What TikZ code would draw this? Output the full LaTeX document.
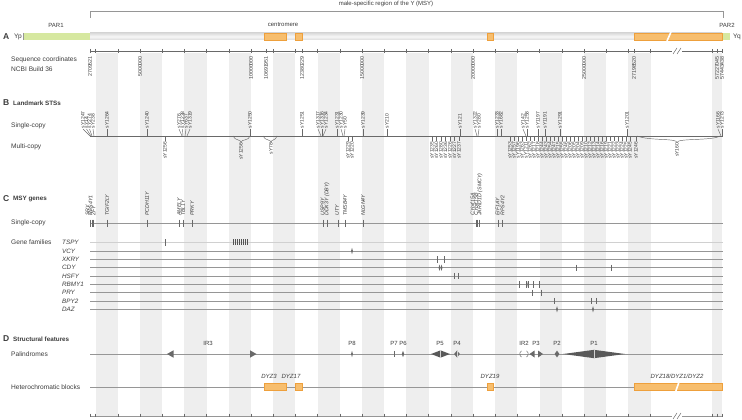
\documentclass[tikz,border=0pt]{standalone}
\usepackage{fontspec}
\setmainfont{Liberation Sans}
\usetikzlibrary{positioning, arrows.meta, shapes.geometric}
\definecolor{stripeGrey}{RGB}{238,238,238}
\definecolor{lineGrey}{RGB}{150,150,150}
\definecolor{textGrey}{RGB}{60,60,60}
\definecolor{parGreen}{RGB}{214,232,160}
\definecolor{hetOrange}{RGB}{247,190,110}
\definecolor{hetEdge}{RGB}{238,160,60}
\definecolor{markGrey}{RGB}{105,105,105}
\tikzset{
	stripe/.style={fill=stripeGrey},
	trackline/.style={draw=lineGrey, line width=0.6pt},
	tickline/.style={draw=markGrey, line width=0.45pt},
	hetblock/.style={fill=hetOrange, draw=hetEdge, line width=0.3pt},
	letter/.style={anchor=west, font=\bfseries\fontsize{8.5}{9}\selectfont, text=textGrey, inner sep=0pt},
	sectitle/.style={anchor=west, font=\bfseries\fontsize{6.3}{7}\selectfont, text=textGrey, inner sep=0pt},
	rowlabel/.style={anchor=west, font=\fontsize{6.6}{7}\selectfont, text=textGrey, inner sep=0pt},
	famlabel/.style={anchor=west, font=\itshape\fontsize{6.3}{7}\selectfont, text=textGrey, inner sep=0pt},
	toplabel/.style={font=\fontsize{6}{7}\selectfont, text=textGrey, inner sep=0pt},
	coordlabel/.style={rotate=90, anchor=east, font=\fontsize{5.3}{6}\selectfont, text=textGrey, inner sep=0pt},
	stsup/.style={rotate=90, anchor=west, font=\fontsize{5}{6}\selectfont, text=textGrey, inner sep=0pt},
	stsdown/.style={rotate=90, anchor=east, font=\fontsize{5}{6}\selectfont, text=textGrey, inner sep=0pt},
	geneup/.style={rotate=90, anchor=west, font=\itshape\fontsize{5.3}{6}\selectfont, text=textGrey, inner sep=0pt},
	famark/.style={diamond, fill=markGrey, inner sep=0pt, minimum width=2pt, minimum height=6.5pt},
	palmark/.style={fill=markGrey},
	pallabel/.style={font=\fontsize{6}{7}\selectfont, text=textGrey, inner sep=0pt},
	hetlabel/.style={font=\itshape\fontsize{6}{7}\selectfont, text=textGrey, inner sep=0pt}
}
\begin{document}
\begin{tikzpicture}[x=1pt, y=-1pt]
\useasboundingbox (0,0) rectangle (742,420);
% grey bands, one for every second megabase
\foreach \m in {3,5,...,27}
	\fill[stripe] ({29+22.2*\m},53) rectangle ({29+22.2*(\m+1)},416);
\fill[stripe] (712,53) rectangle (722,416);

% A: the chromosome
\node[letter] (secA) at (3,36.5) {A};
\node[rowlabel] (yp) at (14,36.5) {Yp};
\shade[top color=black!14, bottom color=black!14, middle color=black!3] (90,33) rectangle (722,40);
\fill[parGreen] (23,33) rectangle (90,40);
\draw[lineGrey, line width=0.4pt] (23,33) -- (23,40);
\fill[parGreen] (722,33) rectangle (730,40);
\path[hetblock] (264,33) rectangle (286,40);
\path[hetblock] (295,33) rectangle (302,40);
\path[hetblock] (487,33) rectangle (493,40);
\path[hetblock] (634,33) rectangle (722,40);
\draw[white, line width=1.6pt] (667,41) -- (671,32);
\node[rowlabel] (yq) at (733,36.5) {Yq};
\node[toplabel] (par1) at (56,25) {PAR1};
\node[toplabel] (cen) at (283,25) {centromere};
\node[toplabel] (par2) at (727,25) {PAR2};
\node[toplabel] (msy) at (386,4) {male-specific region of the Y (MSY)};
\draw[lineGrey, line width=0.6pt] (90,18) |- (723,11) -- (723,18);

% sequence coordinates
\node[rowlabel] (seq1) at (11,60) {Sequence coordinates};
\node[rowlabel] (seq2) at (11,69) {NCBI Build 36};
\draw[tickline, line width=0.6pt] (90,51) -- (672,51);
\draw[tickline, line width=0.6pt] (682,51) -- (723,51);
\draw[tickline] (673,54) -- (677,48);
\draw[tickline] (677,54) -- (681,48);
\foreach \m in {3,...,28}
	\draw[tickline] ({29+22.2*\m},49) -- ({29+22.2*\m},53);
\foreach \x in {90,266,302,634,712,717,722}
	\draw[tickline] (\x,49) -- (\x,53);
\foreach \x/\t [count=\i] in {90/2709521, 140/5000000, 251/10000000, 266/10691951,
		302/12380229, 362/15000000, 473/20000000, 584/25000000, 634/27198520,
		717/57227045, 722/57443438}
	\node[coordlabel] (coord\i) at (\x,56) {\t};

% B: landmark STSs
\node[letter] (secB) at (3,103) {B};
\node[sectitle] (titB) at (13,103) {Landmark STSs};
\node[rowlabel] (stsSingle) at (11,126) {Single-copy};
\node[rowlabel] (stsMulti) at (11,147) {Multi-copy};
\draw[tickline, line width=0.6pt] (90,136) -- (723,136);
% single-copy: label position / true position
\foreach \x/\p/\t [count=\i] in {83/90/sY1247, 86.5/91/sY14, 89.5/92/sY274, 93/94/sY238,
		107/107/sY1264, 147/147/sY1240, 179/182/sY276, 182.5/183/sY1238, 186/185/sY637,
		190/187/sY1319, 250/250/sY1250, 302/302/sY1251, 318/321/sY1317, 322/322/sY1316,
		326/323/sY1234, 337/337/sY1231, 341/343/sY1230, 345/344/sY50, 363/363/sY1239,
		387/387/sY210, 460/460/sY121, 475/477/sY1322, 479/478/sY280, 497/497/sY1233,
		501/501/sY1682, 523/526/sY142, 527/527/sY1258, 538/538/sY1197, 545/545/sY1191,
		560/560/sY1291, 627/627/sY1201, 718/721/sY1166, 722/722/sY1273}
	{
	\node[stsup] (sc\i) at (\x,128.5) {\t};
	\draw[tickline] (\x,129) -- (\p,136);
	}
% multi-copy, single site
\foreach \x/\t [count=\i] in {165/sY1256, 348/sY1229, 352/sY1220,
		432/sY1235, 436.5/sY1260, 441/sY1280, 445.5/sY1236, 450/sY1226, 454.5/sY1227, 459/sY1237,
		510/sY1253, 514/sY1257, 518/sY1196, 522/sY1263, 526/sY1211, 530/sY1262, 534/sY1217,
		538/sY1218, 542/sY1244, 546/sY1243, 550/sY1254, 554/sY1247, 558/sY1215, 562/sY1255,
		566/sY1246, 570/sY1206, 574/sY1205, 578/sY1204, 582/sY1209, 586/sY1210, 590/sY1212,
		594/sY1213, 598/sY1214, 602/sY1216, 606/sY1219, 610/sY1221, 614/sY1222, 618/sY1223,
		622/sY1224, 626/sY1225, 630/sY1245, 636/sY1246}
	{
	\node[stsdown] (mc\i) at (\x,141.5) {\t};
	\draw[tickline] (\x,136) -- (\x,141);
	}
% multi-copy, two sites joined to one label
\node[stsdown] (mcA) at (241,142.5) {sY1256};
\draw[tickline] (233,136) .. controls (235,141) and (241,139) .. (mcA.east)
	.. controls (241,139) and (249,141) .. (250,136);
\node[stsdown] (mcB) at (271,142.5) {sY78};
\draw[tickline] (263,136) .. controls (265,141) and (271,139) .. (mcB.east)
	.. controls (271,139) and (276,141) .. (277,136);
\node[stsdown] (mcC) at (677,142.5) {sY160};
\draw[tickline] (637,136) .. controls (650,141) and (677,138) .. (mcC.east)
	.. controls (677,138) and (712,141) .. (720,136);

% C: MSY genes
\node[letter] (secC) at (3,199) {C};
\node[sectitle] (titC) at (13,199) {MSY genes};
\node[rowlabel] (geneSingle) at (11,223) {Single-copy};
\draw[trackline] (90,223) -- (723,223);
\foreach \x/\p/\t [count=\i] in {87.5/90.5/SRY, 90.5/92/RPS4Y1, 93.5/93.5/ZFY, 107/107/TGIF2LY,
		147/147/PCDH11Y, 179/179.5/AMELY, 183/183/TBL1Y, 192/192/PRKY,
		322.5/323/USP9Y, 327/327/DDX3Y (DBY), 337/338/UTY, 345/345/TMSB4Y, 363/363/NLGN4Y,
		472.5/476/CYorf15A, 476/477/CYorf15B, 480/479.5/JARID1D (SMCY),
		497.5/498.5/EIF1AY, 502.5/502.5/RPS4Y2}
	{
	\node[geneup] (gene\i) at (\x,216) {\t};
	\draw[tickline] (\p,219.5) -- (\p,226.5);
	}
\node[rowlabel] (geneFam) at (11,242.3) {Gene families};
\foreach \y/\t [count=\i] in {242.3/TSPY, 251/VCY, 259.3/XKRY, 267.7/CDY, 276/HSFY,
		284.3/RBMY1, 292.7/PRY, 301/BPY2, 309.3/DAZ}
	{
	\node[famlabel] (fam\i) at (62,\y) {\t};
	\draw[trackline] (90,\y) -- (723,\y);
	}
\draw[draw=lineGrey!45, line width=1.4pt] (90,242.3) -- (723,242.3);
% family copies
\draw[tickline] (165,239) -- (165,245.5);
\foreach \x in {233,235.1,...,248}
	\draw[draw=markGrey!80!black, line width=0.75pt] (\x,239.3) -- (\x,245.3);
\node[famark] (vcy) at (352,251) {};
\foreach \x/\y in {437/259.3, 444/259.3, 454/276, 458/276}
	\draw[tickline] (\x,\y-3.2) -- (\x,\y+3.2);
\node[famark] (cdy1) at (439.5,267.7) {};
\node[famark] (cdy2) at (441.5,267.7) {};
\draw[tickline] (576,264.5) -- (576,271);
\draw[tickline] (611,264.5) -- (611,271);
\foreach \x in {519,526,528,533,539}
	\draw[tickline] (\x,281) -- (\x,287.6);
\node[famark, minimum width=1.5pt] (rbmy) at (527,284.3) {};
\foreach \x in {532,541}
	\draw[tickline] (\x,289.5) -- (\x,296);
\foreach \x in {554,591,596}
	\draw[tickline] (\x,297.8) -- (\x,304.3);
\node[famark] (daz1) at (557,309.3) {};
\node[famark] (daz2) at (593,309.3) {};

% D: structural features
\node[letter] (secD) at (3,339) {D};
\node[sectitle] (titD) at (13,339) {Structural features};
\node[rowlabel] (palRow) at (11,354) {Palindromes};
\draw[trackline] (90,354) -- (723,354);
\fill[palmark] (173.5,350.3) -- (167,354) -- (173.5,357.7) -- cycle;
\fill[palmark] (250,350.3) -- (256.5,354) -- (250,357.7) -- cycle;
\node[famark] (p8) at (352,354) {};
\draw[tickline] (394,350.8) -- (394,357.2);
\node[famark, minimum width=2.6pt] (p6) at (403,354) {};
\node[diamond, fill=markGrey!85!black, inner sep=0pt, minimum width=19pt, minimum height=7.5pt] (p5) at (440.5,354) {};
\node[diamond, fill=markGrey, inner sep=0pt, minimum width=6pt, minimum height=7pt] (p4) at (457,354) {};
\draw[tickline] (521.5,350.8) arc[start angle=120, end angle=240, radius=3.6pt];
\draw[tickline] (526.5,350.8) arc[start angle=60, end angle=-60, radius=3.6pt];
\fill[palmark] (534.5,350.5) -- (529.5,354) -- (534.5,357.5) -- cycle;
\fill[palmark] (538,350.5) -- (543,354) -- (538,357.5) -- cycle;
\node[diamond, fill=markGrey, inner sep=0pt, minimum width=5pt, minimum height=7pt] (p2) at (557,354) {};
\node[diamond, fill=markGrey!85!black, inner sep=0pt, minimum width=62pt, minimum height=8.5pt] (p1) at (594,354) {};
\draw[white!70!markGrey, line width=0.5pt] (p1.north) -- (p1.south);
\draw[white!70!markGrey, line width=0.4pt] (p5.north) -- (p5.south);
\draw[white!70!markGrey, line width=0.4pt] (p4.north) -- (p4.south);
\node[pallabel] (ir3) at (208,343) {IR3};
\node[pallabel] (lp8) at (352,343) {P8};
\node[pallabel] (lp7) at (394,343) {P7};
\node[pallabel] (lp6) at (403,343) {P6};
\node[pallabel] (lp5) at (440,343) {P5};
\node[pallabel] (lp4) at (457,343) {P4};
\node[pallabel] (ir2) at (524,343) {IR2};
\node[pallabel] (lp3) at (536,343) {P3};
\node[pallabel] (lp2) at (557,343) {P2};
\node[pallabel] (lp1) at (594,343) {P1};

\node[rowlabel] (hetRow) at (11,387) {Heterochromatic blocks};
\draw[trackline] (90,387) -- (723,387);
\path[hetblock] (264,383.5) rectangle (286,390.5);
\path[hetblock] (295,383.5) rectangle (302,390.5);
\path[hetblock] (487,383.5) rectangle (493,390.5);
\path[hetblock] (634,383.5) rectangle (722,390.5);
\draw[white, line width=1.6pt] (675.5,392) -- (679,382);
\node[hetlabel] (dyz3) at (269,376) {DYZ3};
\node[hetlabel] (dyz17) at (291,376) {DYZ17};
\node[hetlabel] (dyz19) at (490,376) {DYZ19};
\node[hetlabel] (dyz18) at (677,376) {DYZ18/DYZ1/DYZ2};

% bottom scale
\draw[draw=lineGrey, line width=1pt] (90,416.5) -- (672,416.5);
\draw[draw=lineGrey, line width=1pt] (682,416.5) -- (723,416.5);
\draw[tickline] (673,419) -- (677,413);
\draw[tickline] (677,419) -- (681,413);
\foreach \m in {3,...,28}
	\draw[tickline] ({29+22.2*\m},413.5) -- ({29+22.2*\m},417);
\foreach \x in {90,712,717,722}
	\draw[tickline] (\x,413.5) -- (\x,417);
\end{tikzpicture}
\end{document}
